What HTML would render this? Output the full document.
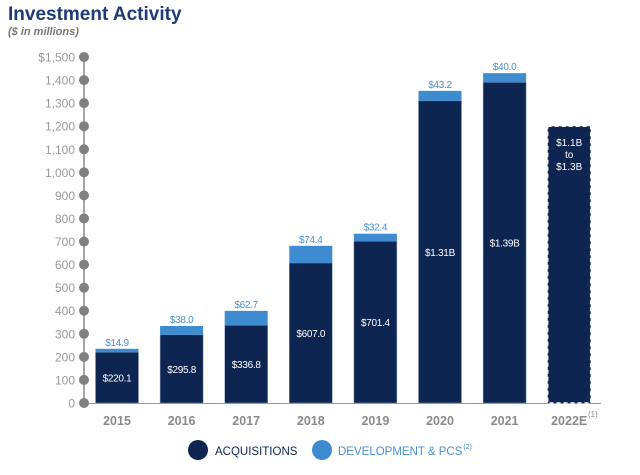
<!DOCTYPE html>
<html><head><meta charset="utf-8"><style>
html,body{margin:0;background:#fff;font-family:"Liberation Sans",sans-serif;width:640px;height:475px;overflow:hidden;}
svg{display:block;}
</style></head><body>
<svg width="640" height="475" id="c">
<text x="8" y="20" font-size="19" font-weight="bold" fill="#1f3a78">Investment Activity</text>
<text x="8" y="35" font-size="11" font-style="italic" font-weight="bold" fill="#777">($ in millions)</text>
</svg>
<script>
const years=["2015","2016","2017","2018","2019","2020","2021","2022E"];
const acq=[220.1,295.8,336.8,607.0,701.4,1310,1390,null];
const dev=[14.9,38.0,62.7,74.4,32.4,43.2,40.0,null];
const acqLabels=["$220.1","$295.8","$336.8","$607.0","$701.4","$1.31B","$1.39B",""];
const devLabels=["$14.9","$38.0","$62.7","$74.4","$32.4","$43.2","$40.0",""];
const estLow=[1100],estHigh=[1300];
const ticks=[0,100,200,300,400,500,600,700,800,900,1000,1100,1200,1300,1400,1500];
const svg=document.getElementById('c');const NS="http://www.w3.org/2000/svg";
const y=v=>403-v*346/1500;const xc=i=>117+i*64.6;const bw=43;
function el(t,a,p){const e=document.createElementNS(NS,t);for(const k in a)e.setAttribute(k,a[k]);(p||svg).appendChild(e);return e;}
let ax=el('line',{x1:84,x2:84,y1:y(1500),y2:y(0),stroke:'#888','stroke-width':1.5});


let bl=el('line',{x1:84,x2:601,y1:403.5,y2:403.5,stroke:'#999','stroke-width':1});


ticks.forEach(t=>{
 let c=el('circle',{cx:84,cy:y(t),r:5,fill:'#808080'});
 
 
 let tx=el('text',{x:75,y:y(t)+4.5,'text-anchor':'end','font-size':12,fill:'#9a9a9a'});
 tx.textContent=(t===1500?'$':'')+t.toLocaleString('en-US');
 
 
});
years.forEach((yr,i)=>{
 const x0=xc(i)-bw/2;
 if(acq[i]!=null){
  let r=el('rect',{x:x0,y:y(acq[i]),width:bw,height:y(0)-y(acq[i]),fill:'#0d2550',stroke:'#8aa0c0','stroke-width':0.5});
  
  
  let d=el('rect',{x:x0,y:y(acq[i]+dev[i]),width:bw,height:y(acq[i])-y(acq[i]+dev[i]),fill:'#3f8bd0'});
  
  
  let t=el('text',{x:xc(i),y:(y(acq[i])+y(0))/2+4,'text-anchor':'middle','font-size':10,fill:'#fff','letter-spacing':'-0.3'});
  t.textContent=acqLabels[i];
  
  
  let t2=el('text',{x:xc(i),y:y(acq[i]+dev[i])-3,'text-anchor':'middle','font-size':10,fill:'#4a90d0','letter-spacing':'-0.3'});
  t2.textContent=devLabels[i];
  
  
 } else {
  const mid=(estLow[0]+estHigh[0])/2;
  let r=el('rect',{x:x0,y:y(mid),width:bw,height:y(0)-y(mid),fill:'#0d2550',stroke:'#fff','stroke-width':1.5,'stroke-dasharray':'4,3'});
  
  
  ['$1.1B','to','$1.3B'].forEach((s,k)=>{let t=el('text',{x:xc(i),y:y(mid)+20+k*12,'text-anchor':'middle','font-size':10,fill:'#fff'});t.textContent=s;
   
   });
 }
 let xl=el('text',{x:xc(i),y:425,'text-anchor':'middle','font-size':12.5,'font-weight':'bold',fill:'#8a8a8a'});
 xl.textContent=yr;
 
 
});
let sup=el('text',{x:588,y:417,'font-size':8,fill:'#8a8a8a'});sup.textContent='(1)';


let g1=el('g',{});


el('circle',{cx:198,cy:450,r:10,fill:'#0d2550'},g1);
let l1=el('text',{x:215,y:455,'font-size':11.5,fill:'#0d2550'},g1);l1.textContent='ACQUISITIONS';
let g2=el('g',{});


el('circle',{cx:322,cy:450,r:10,fill:'#3f8bd0'},g2);
let l2=el('text',{x:338,y:455,'font-size':11.5,fill:'#4a90d0'},g2);l2.textContent='DEVELOPMENT & PCS';
let s2=el('text',{x:338+l2.getComputedTextLength()+1,y:449,'font-size':7,fill:'#4a90d0'},g2);s2.textContent='(2)';
</script>
</body></html>
